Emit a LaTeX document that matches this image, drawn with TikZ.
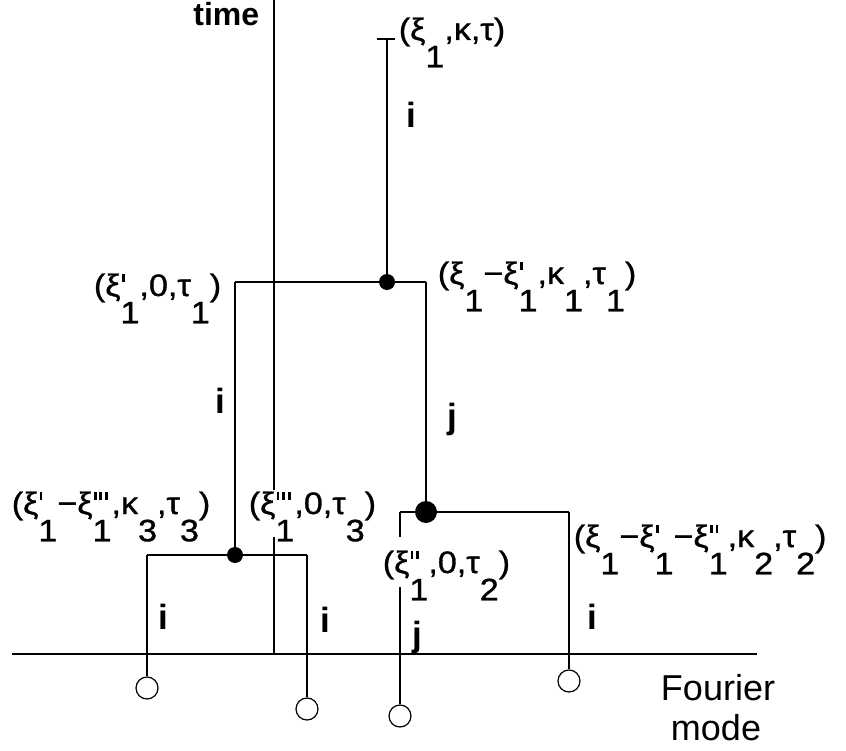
\documentclass[tikz,border=0pt]{standalone}
\usepackage{fontspec}
\setmainfont{Liberation Sans}
\newfontfamily\labfont[FakeStretch=1.1,FakeBold=1]{Liberation Sans}
\newcommand\pr{\kern0.04em\rule[0.46em]{0.09em}{0.26em}\kern0.05em}
\newcommand\dn[1]{\raisebox{-0.88em}{#1}}
\newcommand\su[2]{\begingroup\setbox0\hbox{#1}\setbox2\hbox{\raisebox{-0.88em}{#2}}%
  \ifdim\wd0>\wd2 \dimen0=\wd0 \else \dimen0=\wd2 \fi
  \hbox to\dimen0{\rlap{\box0}\box2\hfil}\endgroup}
\begin{document}
\begin{tikzpicture}[x=1pt,y=-1pt,line width=1.6pt,
  tup/.style={font=\labfont\fontsize{31}{34}\selectfont,inner sep=0pt},
  lbl/.style={font=\bfseries\fontsize{35}{38}\selectfont,inner sep=0pt,anchor=base west},
  dot/.style={circle,fill=black,inner sep=0pt,minimum size=16pt},
  bigdot/.style={dot,minimum size=22pt},
  leaf/.style={circle,draw,line width=1.2pt,fill=white,inner sep=0pt,minimum size=22pt}]
\useasboundingbox (0,0) rectangle (846,751);
% axes
\coordinate (T1) at (274,0); \coordinate (T0) at (274,654);
\coordinate (F0) at (12,654); \coordinate (F1) at (757,654);
\draw (T1) -- (T0);
\draw (F0) -- (F1);
% tree
\coordinate (root) at (387,39);
\coordinate (rootL) at (377,39); \coordinate (rootR) at (395,39);
\node[dot] (v1) at (387,282) {};
\coordinate (a) at (235,282); \coordinate (b) at (426,282);
\node[dot] (v3) at (235,555) {};
\node[bigdot] (v2) at (426,512) {};
\coordinate (c) at (147,555); \coordinate (d) at (307,555);
\coordinate (e) at (400,512); \coordinate (f) at (569,512);
\node[leaf] (l1) at (147,688) {};
\node[leaf] (l2) at (307,709) {};
\node[leaf] (l3) at (400,716) {};
\node[leaf] (l4) at (569,681) {};
\draw (rootL) -- (rootR);
\draw (root) -- (v1.center);
\draw (a) -- (b);
\draw (a) -- (v3.center);
\draw (b) -- (v2.center);
\draw (c) -- (d);
\draw (c) -- (l1);
\draw (d) -- (l2);
\draw (e) -- (f);
\draw (e) -- (l3);
\draw (f) -- (l4);
% tuple labels
\node[tup,anchor=base west] (L0) at (398,40) {(ξ\dn{1},κ,τ)};
\node[tup,anchor=base east] (L1) at (222,296) {(ξ\su{\pr}{1},0,τ\dn{1})};
\node[tup,anchor=base west] (L2) at (437,284) {(ξ\dn{1}−ξ\su{\pr}{1},κ\dn{1},τ\dn{1})};
\node[tup,anchor=base west] (L3) at (11,514) {(ξ\su{\pr}{1}−ξ\su{\pr\pr\pr}{1},κ\dn{3},τ\dn{3})};
\node[tup,anchor=base west,fill=white,text height=24pt,text depth=23pt] (L4) at (248,514) {(ξ\su{\pr\pr\pr}{1},0,τ\dn{3})};
\node[tup,anchor=base west,fill=white,text height=36pt,text depth=14pt] (L5) at (382,573) {(ξ\su{\pr\pr}{1},0,τ\dn{2})};
\node[tup,anchor=base west] (L6) at (573,547) {(ξ\dn{1}−ξ\su{\pr}{1}−ξ\su{\pr\pr}{1},κ\dn{2},τ\dn{2})};
% branch labels
\node[lbl] (i0) at (406,128) {i};
\node[lbl] (i1) at (215,413) {i};
\node[lbl] (j1) at (447,428) {j};
\node[lbl] (i2) at (158,629) {i};
\node[lbl] (i3) at (320,632) {i};
\node[lbl] (j2) at (412,646) {j};
\node[lbl] (i4) at (587,629) {i};
% axis labels
\node[font=\bfseries\fontsize{32}{36}\selectfont,anchor=base east,inner sep=0pt] (time) at (260,26) {time};
\node[font=\fontsize{36}{40}\selectfont,anchor=base,inner sep=0pt] (fou) at (718,700) {Fourier};
\node[font=\fontsize{36}{40}\selectfont,anchor=base,inner sep=0pt] (mod) at (716,740) {mode};
\end{tikzpicture}
\end{document}
